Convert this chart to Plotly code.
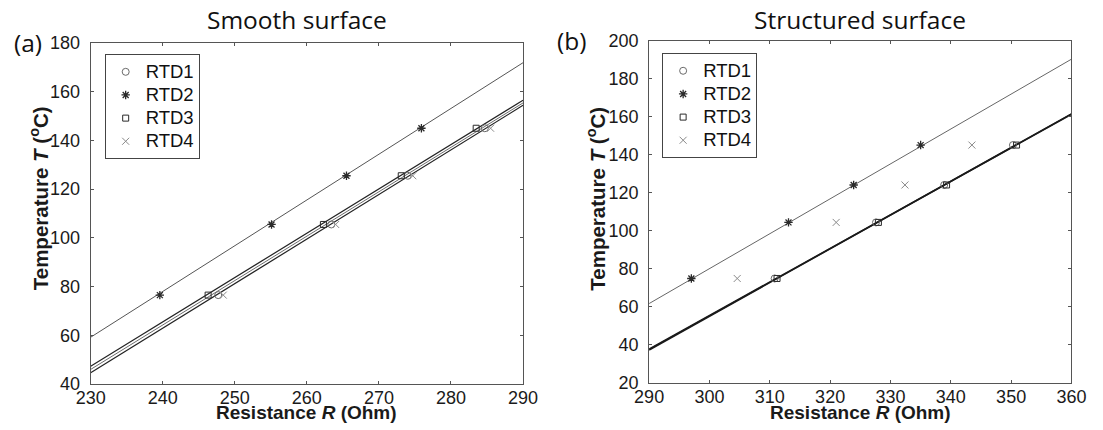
import plotly.graph_objects as go

# ---------------- data ----------------
# Panel (a): smooth surface
a_temps = [76.5, 105.5, 125.5, 145.0]
a_rtd1_R = [247.7, 263.4, 274.0, 284.7]
a_rtd2_R = [239.6, 255.1, 265.5, 275.9]
a_rtd3_R = [246.3, 262.3, 273.1, 283.5]
a_rtd4_R = [248.4, 264.0, 274.7, 285.5]
a_fit_R = [230, 290]
a_fit_rtd2 = [59.2, 171.9]
a_fit_rtd3 = [47.3, 156.5]
a_fit_rtd1 = [46.0, 155.4]
a_fit_rtd4 = [44.6, 154.4]

# Panel (b): structured surface
b_temps = [75.0, 104.5, 124.2, 145.2]
b_rtd1_R = [310.8, 327.6, 338.9, 350.3]
b_rtd2_R = [297.0, 313.1, 323.9, 335.0]
b_rtd3_R = [311.2, 328.0, 339.3, 350.9]
b_rtd4_R = [304.6, 321.0, 332.4, 343.5]
b_fit_R = [290, 360]
b_fit_rtd2 = [61.8, 190.4]
b_fit_rtd1 = [37.8, 161.4]
b_fit_rtd3 = [37.4, 161.6]

a_xticks = [230, 240, 250, 260, 270, 280, 290]
a_yticks = [40, 60, 80, 100, 120, 140, 160, 180]
b_xticks = [290, 300, 310, 320, 330, 340, 350, 360]
b_yticks = [20, 40, 60, 80, 100, 120, 140, 160, 180, 200]

series_names = ["RTD1", "RTD2", "RTD3", "RTD4"]

# ---------------- layout geometry ----------------
W, H = 1103, 430
# the photographed page shows the window slightly reduced inside a thin border;
# target positions below are given in photo pixels and mapped back to the window
SX, OX = 0.972, 15.4
SY, OY = 0.931, 14.8

def px2x(p):
    return ((p - OX) / SX) / W

def px2y(p):
    return 1 - ((p - OY) / SY) / H

marker_styles = {
    "RTD1": dict(symbol="circle-open", size=7, color="#6a6a6a", line=dict(width=1, color="#6a6a6a")),
    "RTD2": dict(symbol="asterisk-open", size=7, color="#2a2a2a", line=dict(width=1.3, color="#2a2a2a")),
    "RTD3": dict(symbol="square-open", size=6, color="#2a2a2a", line=dict(width=1, color="#2a2a2a")),
    "RTD4": dict(symbol="x-thin-open", size=7, color="#8a8a8a", line=dict(width=1, color="#8a8a8a")),
}

fig = go.Figure()

def add_line(xs, ys, xa, ya, color, width):
    fig.add_trace(go.Scatter(x=xs, y=ys, mode="lines", xaxis=xa, yaxis=ya,
                             line=dict(color=color, width=width), showlegend=False,
                             hoverinfo="skip"))

# panel a lines
add_line(a_fit_R, a_fit_rtd2, "x", "y", "#555555", 1)
add_line(a_fit_R, a_fit_rtd3, "x", "y", "#222222", 1.2)
add_line(a_fit_R, a_fit_rtd1, "x", "y", "#444444", 0.8)
add_line(a_fit_R, a_fit_rtd4, "x", "y", "#222222", 1.2)
# panel b lines
add_line(b_fit_R, b_fit_rtd2, "x2", "y2", "#666666", 1)
add_line(b_fit_R, b_fit_rtd1, "x2", "y2", "#1a1a1a", 1.6)
add_line(b_fit_R, b_fit_rtd3, "x2", "y2", "#1a1a1a", 1.6)

a_R = {"RTD1": a_rtd1_R, "RTD2": a_rtd2_R, "RTD3": a_rtd3_R, "RTD4": a_rtd4_R}
b_R = {"RTD1": b_rtd1_R, "RTD2": b_rtd2_R, "RTD3": b_rtd3_R, "RTD4": b_rtd4_R}

def legend_label(name):
    return '<span style="font-size:18.5px">' + name + '</span>'

for name in series_names:
    fig.add_trace(go.Scatter(x=a_R[name], y=a_temps, mode="markers", name=legend_label(name),
                             marker=marker_styles[name], xaxis="x", yaxis="y",
                             legend="legend"))
for name in series_names:
    fig.add_trace(go.Scatter(x=b_R[name], y=b_temps, mode="markers", name=legend_label(name),
                             marker=marker_styles[name], xaxis="x2", yaxis="y2",
                             legend="legend2"))

tick_font = dict(family="Liberation Sans, Arial, sans-serif", size=18, color="#1a1a1a")
axis_common = dict(showline=True, linecolor="#555555", linewidth=1, mirror="ticks",
                   ticks="inside", ticklen=3, tickcolor="#555555", showgrid=False,
                   zeroline=False, tickfont=tick_font, fixedrange=True)

legend_common = dict(bgcolor="white", bordercolor="#444444", borderwidth=1,
                     font=dict(family="Liberation Sans, Arial, sans-serif", size=15.5, color="#111111"),
                     xanchor="left", yanchor="top", tracegroupgap=0, itemwidth=30)

# photo-pixel targets of the two plot areas
A_X0, A_X1, A_Y0, A_Y1 = 91, 523, 47, 380
B_X0, B_X1, B_Y0, B_Y1 = 649, 1071, 45, 379

fig.update_layout(
    width=W, height=H,
    margin=dict(l=0, r=0, t=0, b=0),
    paper_bgcolor="white", plot_bgcolor="white",
    xaxis=dict(domain=[px2x(A_X0), px2x(A_X1)], range=[230, 290], tickvals=a_xticks, anchor="y",
               ticklabelstandoff=-3, **axis_common),
    yaxis=dict(domain=[px2y(A_Y1), px2y(A_Y0)], range=[40, 180], tickvals=a_yticks, anchor="x",
               ticklabelstandoff=6, **axis_common),
    xaxis2=dict(domain=[px2x(B_X0), px2x(B_X1)], range=[290, 360], tickvals=b_xticks, anchor="y2",
                ticklabelstandoff=-3, **axis_common),
    yaxis2=dict(domain=[px2y(B_Y1), px2y(B_Y0)], range=[20, 200], tickvals=b_yticks, anchor="x2",
                ticklabelstandoff=6, **axis_common),
    legend=dict(x=px2x(105), y=px2y(58), **legend_common),
    legend2=dict(x=px2x(662), y=px2y(57), **legend_common),
    showlegend=True,
)

a_cx = (A_X0 + A_X1) / 2
b_cx = (B_X0 + B_X1) / 2
title_font = dict(family="Open Sans, Noto Sans, sans-serif", size=24.5, color="#111111")
xlabel_font = dict(family="Liberation Sans, Arial, sans-serif", size=19, color="#1a1a1a")
ylabel_font = dict(family="Liberation Sans, Arial, sans-serif", size=20.5, color="#1a1a1a")
ann = []
ann.append(dict(text="Smooth surface", x=px2x(297), y=px2y(24), font=title_font))
ann.append(dict(text="Structured surface", x=px2x(b_cx), y=px2y(24), font=title_font))
ann.append(dict(text="(a)", x=px2x(28), y=px2y(47), font=title_font))
ann.append(dict(text="(b)", x=px2x(571), y=px2y(45), font=title_font))
ann.append(dict(text="<b>Resistance <i>R</i> (Ohm)</b>", x=px2x(a_cx), y=px2y(408), font=xlabel_font))
ann.append(dict(text="<b>Resistance <i>R</i> (Ohm)</b>", x=px2x(b_cx), y=px2y(408), font=xlabel_font))
ann.append(dict(text="<b>Temperature <i>T</i> (<sup>o</sup>C)</b>", x=px2x(39), y=px2y(199), textangle=-90, font=ylabel_font))
ann.append(dict(text="<b>Temperature <i>T</i> (<sup>o</sup>C)</b>", x=px2x(596), y=px2y(199), textangle=-90, font=ylabel_font))
for a in ann:
    a.update(xref="paper", yref="paper", showarrow=False, xanchor="center", yanchor="middle")
fig.update_layout(annotations=ann)

fig.write_html("out.html")
